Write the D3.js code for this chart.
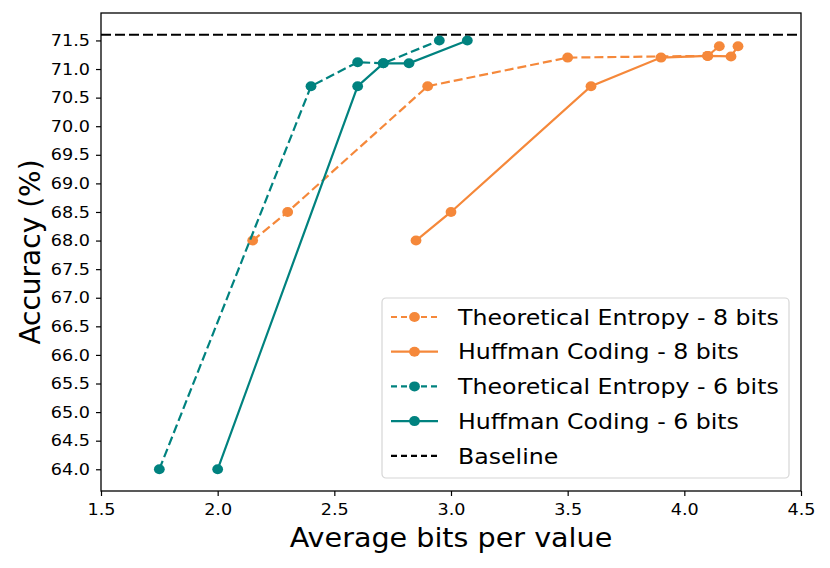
<!DOCTYPE html>
<html>
<head>
<meta charset="utf-8">
<script src="https://cdn.jsdelivr.net/npm/d3@7"></script>
<style>
  body { margin: 0; background: #fff; }
  text { font-family: "DejaVu Sans", sans-serif; fill: #000; }
</style>
</head>
<body>
<div id="chart"></div>
<script>
// values
const entropy8X = [2.15, 2.3, 2.9, 3.5, 4.1, 4.15];
const entropy8Y = [68.0, 68.5, 70.7, 71.2, 71.23, 71.4];
const huffman8X = [2.85, 3.0, 3.6, 3.9, 4.1, 4.2, 4.23];
const huffman8Y = [68.0, 68.5, 70.7, 71.2, 71.23, 71.22, 71.4];
const entropy6X = [1.75, 2.4, 2.6, 2.71, 2.95];
const entropy6Y = [64.0, 70.7, 71.12, 71.1, 71.5];
const huffman6X = [2.0, 2.6, 2.71, 2.82, 3.07];
const huffman6Y = [64.0, 70.7, 71.1, 71.1, 71.5];
const baseline = 71.6;
const xTicks = [1.5, 2.0, 2.5, 3.0, 3.5, 4.0, 4.5];
const yTicks = d3.range(64, 71.51, 0.5);

const orange = "#f5883a";
const teal = "#00827f";
const stretch = 1.1; // text in the picture is a bit wider than plain DejaVu

const series = [
    { name: "Theoretical Entropy - 8 bits", xs: entropy8X, ys: entropy8Y, color: orange, dash: "9,4" },
    { name: "Huffman Coding - 8 bits", xs: huffman8X, ys: huffman8Y, color: orange, dash: null },
    { name: "Theoretical Entropy - 6 bits", xs: entropy6X, ys: entropy6Y, color: teal, dash: "9,4" },
    { name: "Huffman Coding - 6 bits", xs: huffman6X, ys: huffman6Y, color: teal, dash: null }
];

const W = 830, H = 568;
const margin = { top: 13, right: 29, bottom: 77, left: 101 };
const width = W - margin.left - margin.right;
const height = H - margin.top - margin.bottom;

const svg = d3.select("#chart")
    .append("svg")
    .attr("width", W)
    .attr("height", H);

const g = svg.append("g")
    .attr("transform", `translate(${margin.left},${margin.top})`);

const x = d3.scaleLinear().domain([1.5, 4.5]).range([0, width]);
const y = d3.scaleLinear().domain([63.62, 71.98]).range([height, 0]);

// axes
const xAxis = g.append("g")
    .attr("transform", `translate(0,${height})`)
    .call(d3.axisBottom(x).tickValues(xTicks).tickFormat(d3.format(".1f")).tickSize(5).tickPadding(8));
const yAxis = g.append("g")
    .call(d3.axisLeft(y).tickValues(yTicks).tickFormat(d3.format(".1f")).tickSize(5).tickPadding(5));

[xAxis, yAxis].forEach(a => {
    a.select(".domain").remove();
    a.selectAll("line").attr("stroke", "#000").attr("stroke-width", 1.2);
    a.selectAll("text")
        .style("font-size", "16px")
        .attr("fill", "#000")
        .attr("transform", `scale(${stretch},1)`);
});

// frame
g.append("rect")
    .attr("width", width)
    .attr("height", height)
    .attr("fill", "none")
    .attr("stroke", "#000")
    .attr("stroke-width", 1.3);

// baseline
g.append("line")
    .attr("x1", 0).attr("x2", width)
    .attr("y1", y(baseline)).attr("y2", y(baseline))
    .attr("stroke", "#000")
    .attr("stroke-width", 2.2)
    .attr("stroke-dasharray", "10,4");

const line = d3.line().x(d => x(d[0])).y(d => y(d[1]));

series.forEach(s => {
    const pts = s.xs.map((v, i) => [v, s.ys[i]]);
    g.append("path")
        .datum(pts)
        .attr("d", line)
        .attr("fill", "none")
        .attr("stroke", s.color)
        .attr("stroke-width", 2.2)
        .attr("stroke-dasharray", s.dash);
    g.selectAll(null)
        .data(pts)
        .enter()
        .append("ellipse")
        .attr("cx", d => x(d[0]))
        .attr("cy", d => y(d[1]))
        .attr("rx", 5.4)
        .attr("ry", 5)
        .attr("fill", s.color);
});

// axis titles
svg.append("text")
    .attr("transform", `translate(${margin.left + width / 2},547) scale(${stretch},1)`)
    .attr("text-anchor", "middle")
    .style("font-size", "26px")
    .text("Average bits per value");

svg.append("text")
    .attr("transform", `translate(40,${margin.top + height / 2}) rotate(-90)`)
    .attr("text-anchor", "middle")
    .style("font-size", "28px")
    .text("Accuracy (%)");

// legend
const legend = svg.append("g").attr("transform", "translate(382,298)");
legend.append("rect")
    .attr("width", 407)
    .attr("height", 180)
    .attr("rx", 4)
    .attr("fill", "#fff")
    .attr("fill-opacity", 0.8)
    .attr("stroke", "#d6d6d6")
    .attr("stroke-width", 1.2);

const legendItems = series.concat([{ name: "Baseline", color: "#000", dash: "9,4", baseline: true }]);
legendItems.forEach((s, i) => {
    const row = legend.append("g").attr("transform", `translate(0,${19 + i * 34.7})`);
    row.append("line")
        .attr("x1", 9).attr("x2", 56)
        .attr("stroke", s.color)
        .attr("stroke-width", 2.2)
        .attr("stroke-dasharray", s.dash ? "6,4" : null);
    if (!s.baseline) {
        row.append("ellipse").attr("cx", 32.5).attr("rx", 5.4).attr("ry", 5).attr("fill", s.color);
    }
    row.append("text")
        .attr("transform", `translate(76,0) scale(${stretch},1)`)
        .attr("dy", "0.36em")
        .style("font-size", "21.5px")
        .text(s.name);
});
</script>
</body>
</html>
